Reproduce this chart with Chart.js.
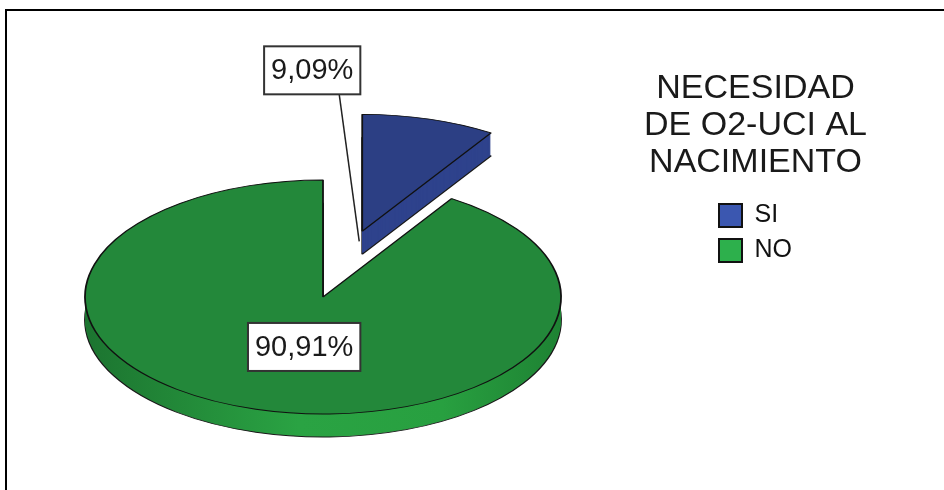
<!DOCTYPE html>
<html>
<head>
<meta charset="utf-8">
<script src="https://cdn.jsdelivr.net/npm/chart.js@4.4.1/dist/chart.umd.min.js"></script>
<style>
  html, body { margin: 0; padding: 0; background: #fff; }
  #wrap { width: 944px; height: 490px; }
</style>
</head>
<body>
<div id="wrap"><canvas id="c" width="944" height="490"></canvas></div>
<script>
// Categories and their shares (%)
const categories = ['SI', 'NO'];
const percentages = [9.09, 90.91];
const legendTitle = ['NECESIDAD', 'DE O2-UCI AL', 'NACIMIENTO'];

const FONT = "'Liberation Sans', Arial, sans-serif";
const topColors = ['#2c3f84', '#23883a'];
const legendColors = ['#3b57b0', '#2db04c'];

// Projected pie: ellipse of the top face, extrusion depth, slice explosion (fraction of radius)
const PIE = { cx: 323, cy: 297, rx: 238, ry: 117, depth: 23 };
const EXPLODE = [0.585, 0];

const TITLE_FONT = { family: FONT, size: 34, lineHeight: 37 / 34 };
const TITLE_PAD = { top: 72, bottom: 84 };

const fmt = v => v.toFixed(2).replace('.', ',') + '%';

function sideFill(ctx, arc, i) {
  if (i === 0) return '#2e428c';
  const R = arc.outerRadius;
  const g = ctx.createLinearGradient(arc.x - R, 0, arc.x + R, 0);
  g.addColorStop(0, '#1c7430');
  g.addColorStop(0.45, '#2aa343');
  g.addColorStop(0.75, '#28a040');
  g.addColorStop(1, '#1e8233');
  return g;
}

// Draw one arc element squeezed onto the ellipse, shifted down by dy screen pixels
function drawArc(ctx, arc, i, dy, extra) {
  const R = arc.outerRadius;
  ctx.save();
  ctx.translate(PIE.cx, PIE.cy + dy);
  ctx.scale(PIE.rx / R, PIE.ry / R);
  ctx.translate(-arc.x, -arc.y);
  const mid = (arc.startAngle + arc.endAngle) / 2;
  ctx.translate(Math.cos(mid) * EXPLODE[i] * R, Math.sin(mid) * EXPLODE[i] * R);
  const proxy = Object.create(arc);
  proxy.options = Object.assign({}, arc.options, { offset: 0, spacing: 0 }, extra);
  Chart.ArcElement.prototype.draw.call(proxy, ctx);
  ctx.restore();
}

// Screen position of a point at angle ang, fraction f of the radius, on slice i
function project(arc, i, ang, f) {
  const mid = (arc.startAngle + arc.endAngle) / 2;
  const e = EXPLODE[i];
  return {
    x: PIE.cx + (Math.cos(ang) * f + Math.cos(mid) * e) * PIE.rx,
    y: PIE.cy + (Math.sin(ang) * f + Math.sin(mid) * e) * PIE.ry
  };
}

const framePlugin = {
  id: 'frame',
  beforeDraw(chart) {
    const ctx = chart.ctx;
    ctx.save();
    ctx.fillStyle = '#fff';
    ctx.fillRect(0, 0, chart.width, chart.height);
    ctx.restore();
  },
  afterDraw(chart) {
    const ctx = chart.ctx;
    ctx.save();
    ctx.strokeStyle = '#000';
    ctx.lineWidth = 2;
    ctx.strokeRect(6, 10, chart.width + 50, chart.height + 50);
    ctx.restore();
  }
};

const pie3dPlugin = {
  id: 'pie3d',
  beforeDatasetsDraw(chart) {
    const ctx = chart.ctx;
    const arcs = chart.getDatasetMeta(0).data;
    arcs.forEach((arc, i) => {
      const bw = 1.8 * arc.outerRadius / PIE.rx;
      for (let k = PIE.depth; k >= 1; k--) {
        drawArc(ctx, arc, i, k, {
          backgroundColor: sideFill(ctx, arc, i),
          borderColor: '#1a1a1a',
          borderWidth: k === PIE.depth ? bw : 0
        });
      }
      drawArc(ctx, arc, i, 0, { backgroundColor: topColors[i], borderColor: '#111', borderWidth: bw });
    });
    return false;
  }
};

// The legend box is narrower than its title, so the title lines are written
// centred over the legend here rather than clipped inside it.
const legendTitlePlugin = {
  id: 'legendTitleLines',
  afterDraw(chart) {
    const lg = chart.legend;
    const ctx = chart.ctx;
    ctx.save();
    ctx.font = TITLE_FONT.size + 'px ' + FONT;
    ctx.fillStyle = '#1a1a1a';
    ctx.textAlign = 'center';
    ctx.textBaseline = 'middle';
    const x = lg.left + lg.width / 2;
    let y = lg.top + TITLE_PAD.top + TITLE_FONT.size / 2;
    legendTitle.forEach(line => {
      ctx.fillText(line, x, y);
      y += TITLE_FONT.size * TITLE_FONT.lineHeight;
    });
    ctx.restore();
  }
};

function labelBox(ctx, text, cx, cy) {
  ctx.font = '29px ' + FONT;
  const w = ctx.measureText(text).width + 14;
  const h = 48;
  ctx.fillStyle = '#fff';
  ctx.fillRect(cx - w / 2, cy - h / 2, w, h);
  ctx.strokeStyle = '#333';
  ctx.lineWidth = 2;
  ctx.strokeRect(cx - w / 2, cy - h / 2, w, h);
  ctx.fillStyle = '#1a1a1a';
  ctx.textAlign = 'center';
  ctx.textBaseline = 'middle';
  ctx.fillText(text, cx, cy + 1);
  return { w, h };
}

const valueLabelPlugin = {
  id: 'valueLabels',
  afterDraw(chart) {
    const ctx = chart.ctx;
    const arcs = chart.getDatasetMeta(0).data;
    ctx.save();
    // large slice: label inside, along its bisector
    const big = arcs[1];
    const midB = (big.startAngle + big.endAngle) / 2;
    const pB = project(big, 1, midB, 0.445);
    labelBox(ctx, fmt(percentages[1]), pB.x + 11, pB.y);
    // small slice: label outside, with a leader to the slice tip
    const small = arcs[0];
    const apex = project(small, 0, 0, 0);
    const bx = apex.x - 50, by = apex.y - 161;
    ctx.strokeStyle = '#222';
    ctx.lineWidth = 1.5;
    ctx.beginPath();
    ctx.moveTo(bx + 27, by + 24);
    ctx.lineTo(apex.x - 3, apex.y + 10);
    ctx.stroke();
    labelBox(ctx, fmt(percentages[0]), bx, by);
    ctx.restore();
  }
};

new Chart(document.getElementById('c'), {
  type: 'pie',
  data: {
    labels: categories,
    datasets: [{ data: percentages, backgroundColor: topColors, borderColor: '#111', borderWidth: 1 }]
  },
  options: {
    responsive: false,
    animation: false,
    events: [],
    layout: { padding: { top: 0, right: 142, bottom: 0, left: 0 } },
    plugins: {
      tooltip: { enabled: false },
      legend: {
        position: 'right',
        align: 'start',
        title: {
          display: true,
          text: legendTitle,
          color: 'rgba(0,0,0,0)',
          position: 'center',
          font: TITLE_FONT,
          padding: TITLE_PAD
        },
        labels: {
          boxWidth: 23,
          boxHeight: 23,
          padding: 10,
          color: '#111',
          font: { family: FONT, size: 25 },
          generateLabels(chart) {
            return chart.data.labels.map((label, i) => ({
              text: label,
              fillStyle: legendColors[i],
              strokeStyle: '#111',
              lineWidth: 2,
              fontColor: '#111',
              hidden: false,
              index: i
            }));
          }
        }
      }
    }
  },
  plugins: [framePlugin, pie3dPlugin, valueLabelPlugin, legendTitlePlugin]
});
</script>
</body>
</html>
